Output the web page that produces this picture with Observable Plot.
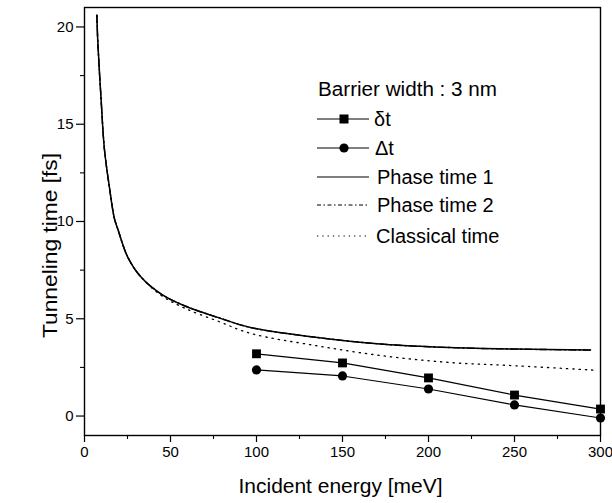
<!DOCTYPE html>
<html><head><meta charset="utf-8">
<script src="https://cdn.jsdelivr.net/npm/d3@7"></script>
<script src="https://cdn.jsdelivr.net/npm/@observablehq/plot@0.6"></script>
<style>body{margin:0;background:#fff} #chart{width:612px;height:503px}</style>
</head><body><div id="chart"></div>
<script>
// measured points
const energyPoints = [100, 150, 200, 250, 300];
const deltaSmallT = [3.2, 2.73, 1.96, 1.08, 0.36];   // δt
const deltaBigT = [2.37, 2.06, 1.39, 0.57, -0.1];    // Δt
// curves
const curveEnergy = [7.2, 7.7, 9.7, 11.6, 14.5, 17.4, 19.4, 25.2, 33, 44.6, 58.1, 77.5, 96.5, 135.3, 174, 212.8, 251.6, 294.2];
const phaseTime1 = [20.6, 19.3, 16.2, 13.7, 11.75, 10.15, 9.6, 8.16, 7.13, 6.27, 5.67, 5.07, 4.55, 4.04, 3.69, 3.52, 3.44, 3.39];
const phaseTime2 = [20.6, 19.3, 16.2, 13.7, 11.75, 10.15, 9.6, 8.16, 7.13, 6.27, 5.67, 5.07, 4.55, 4.04, 3.69, 3.52, 3.44, 3.39];
const classicalEnergy = [7.2, 7.7, 9.7, 11.6, 14.5, 17.4, 19.4, 25.2, 33, 44.6, 58.1, 77.5, 96.5, 135.3, 174, 212.8, 251.6, 298];
const classicalTime = [20.6, 19.3, 16.2, 13.7, 11.75, 10.15, 9.6, 8.16, 7.13, 6.2, 5.55, 4.88, 4.25, 3.61, 3.09, 2.75, 2.58, 2.35];
// ticks and labels
const xTicks = [0, 50, 100, 150, 200, 250, 300];
const xMinor = [25, 75, 125, 175, 225, 275];
const yTicks = [0, 5, 10, 15, 20];
const yMinor = [2.5, 7.5, 12.5, 17.5];
const xTitle = "Incident energy [meV]";
const yTitle = "Tunneling time [fs]";
const legendTitle = "Barrier width : 3 nm";
const legendLabels = ["δt", "Δt", "Phase time 1", "Phase time 2", "Classical time"];

const pts = energyPoints.map((e, i) => ({e, ds: deltaSmallT[i], db: deltaBigT[i]}));
const ph1 = curveEnergy.map((e, i) => ({e, t: phaseTime1[i]}));
const ph2 = curveEnergy.map((e, i) => ({e, t: phaseTime2[i]}));
const cls = classicalEnergy.map((e, i) => ({e, t: classicalTime[i]}));

const font = "'Liberation Sans', Arial, Helvetica, sans-serif";
const chart = Plot.plot({
  width: 612, height: 503,
  marginTop: 7, marginRight: 12, marginBottom: 68, marginLeft: 84,
  style: {fontFamily: font, fontSize: "15px", color: "#000", background: "#fff", overflow: "visible"},
  x: {domain: [0, 300]},
  y: {domain: [-1, 21]},
  marks: [
    Plot.axisX({ticks: xTicks, tickSize: 7, tickPadding: 4, label: null, strokeWidth: 1.2}),
    Plot.axisX({ticks: xMinor, tickSize: 4, text: null, label: null, strokeWidth: 1.1}),
    Plot.axisY({ticks: yTicks, tickSize: 8, tickPadding: 3, label: null, strokeWidth: 1.2}),
    Plot.axisY({ticks: yMinor, tickSize: 4, text: null, label: null, strokeWidth: 1.1}),
    Plot.frame({stroke: "#000", strokeWidth: 1.4}),
    Plot.line(cls, {x: "e", y: "t", stroke: "#000", strokeWidth: 1.3, strokeDasharray: "1.3,5", curve: "catmull-rom"}),
    Plot.line(ph2, {x: "e", y: "t", stroke: "#000", strokeWidth: 1.4, strokeDasharray: "7,3,1.5,3", curve: "catmull-rom"}),
    Plot.line(ph1, {x: "e", y: "t", stroke: "#000", strokeWidth: 1.5, curve: "catmull-rom"}),
    Plot.line(pts, {x: "e", y: "ds", stroke: "#000", strokeWidth: 1.2}),
    Plot.line(pts, {x: "e", y: "db", stroke: "#000", strokeWidth: 1.2}),
    Plot.dot(pts, {x: "e", y: "ds", symbol: "square", r: 5, fill: "#000", stroke: "none"}),
    Plot.dot(pts, {x: "e", y: "db", symbol: "circle", r: 4.6, fill: "#000", stroke: "none"}),
    Plot.text([xTitle], {frameAnchor: "bottom", dx: -2, dy: 51, lineAnchor: "middle", fontSize: 20, fill: "#000"}),
    Plot.text([yTitle], {frameAnchor: "left", rotate: -90, textAnchor: "middle", lineAnchor: "middle", dx: -34, dy: 24, fontSize: 20, fill: "#000"})
  ]
});
document.getElementById("chart").appendChild(chart);

const svg = d3.select(chart);
svg.selectAll("text").filter(function() { return this.textContent === xTitle; })
  .attr("textLength", 204).attr("lengthAdjust", "spacingAndGlyphs");
svg.selectAll("text").filter(function() { return this.textContent === yTitle; })
  .attr("textLength", 185).attr("lengthAdjust", "spacingAndGlyphs");

// legend (layout in pixels)
const lg = svg.append("g").attr("font-family", font).attr("font-size", 20)
  .attr("fill", "#000").attr("text-anchor", "start");
lg.append("text").attr("x", 318).attr("y", 89).attr("dy", "0.35em").attr("text-anchor", "start").text(legendTitle)
  .attr("textLength", 179).attr("lengthAdjust", "spacingAndGlyphs");
const rows = [
  {y: 119, dash: null, sym: "square", tx: 374},
  {y: 148, dash: null, sym: "circle", tx: 375},
  {y: 177, dash: null, sym: null, tx: 377},
  {y: 205, dash: "4,2.5,1.5,2.5", sym: null, tx: 377},
  {y: 236, dash: "1.3,4", sym: null, tx: 376}
];
rows.forEach((r, i) => {
  const ln = lg.append("line").attr("x1", 317).attr("x2", 369).attr("y1", r.y).attr("y2", r.y)
    .attr("stroke", "#000").attr("stroke-width", 1.2);
  if (r.dash) ln.attr("stroke-dasharray", r.dash);
  if (r.sym === "square") lg.append("rect").attr("x", 339.5).attr("y", r.y - 4.5).attr("width", 9).attr("height", 9).attr("fill", "#000");
  if (r.sym === "circle") lg.append("circle").attr("cx", 344).attr("cy", r.y).attr("r", 4.6).attr("fill", "#000");
  lg.append("text").attr("x", r.tx).attr("y", r.y).attr("dy", "0.35em").attr("text-anchor", "start").text(legendLabels[i]);
});
</script>
</body></html>
